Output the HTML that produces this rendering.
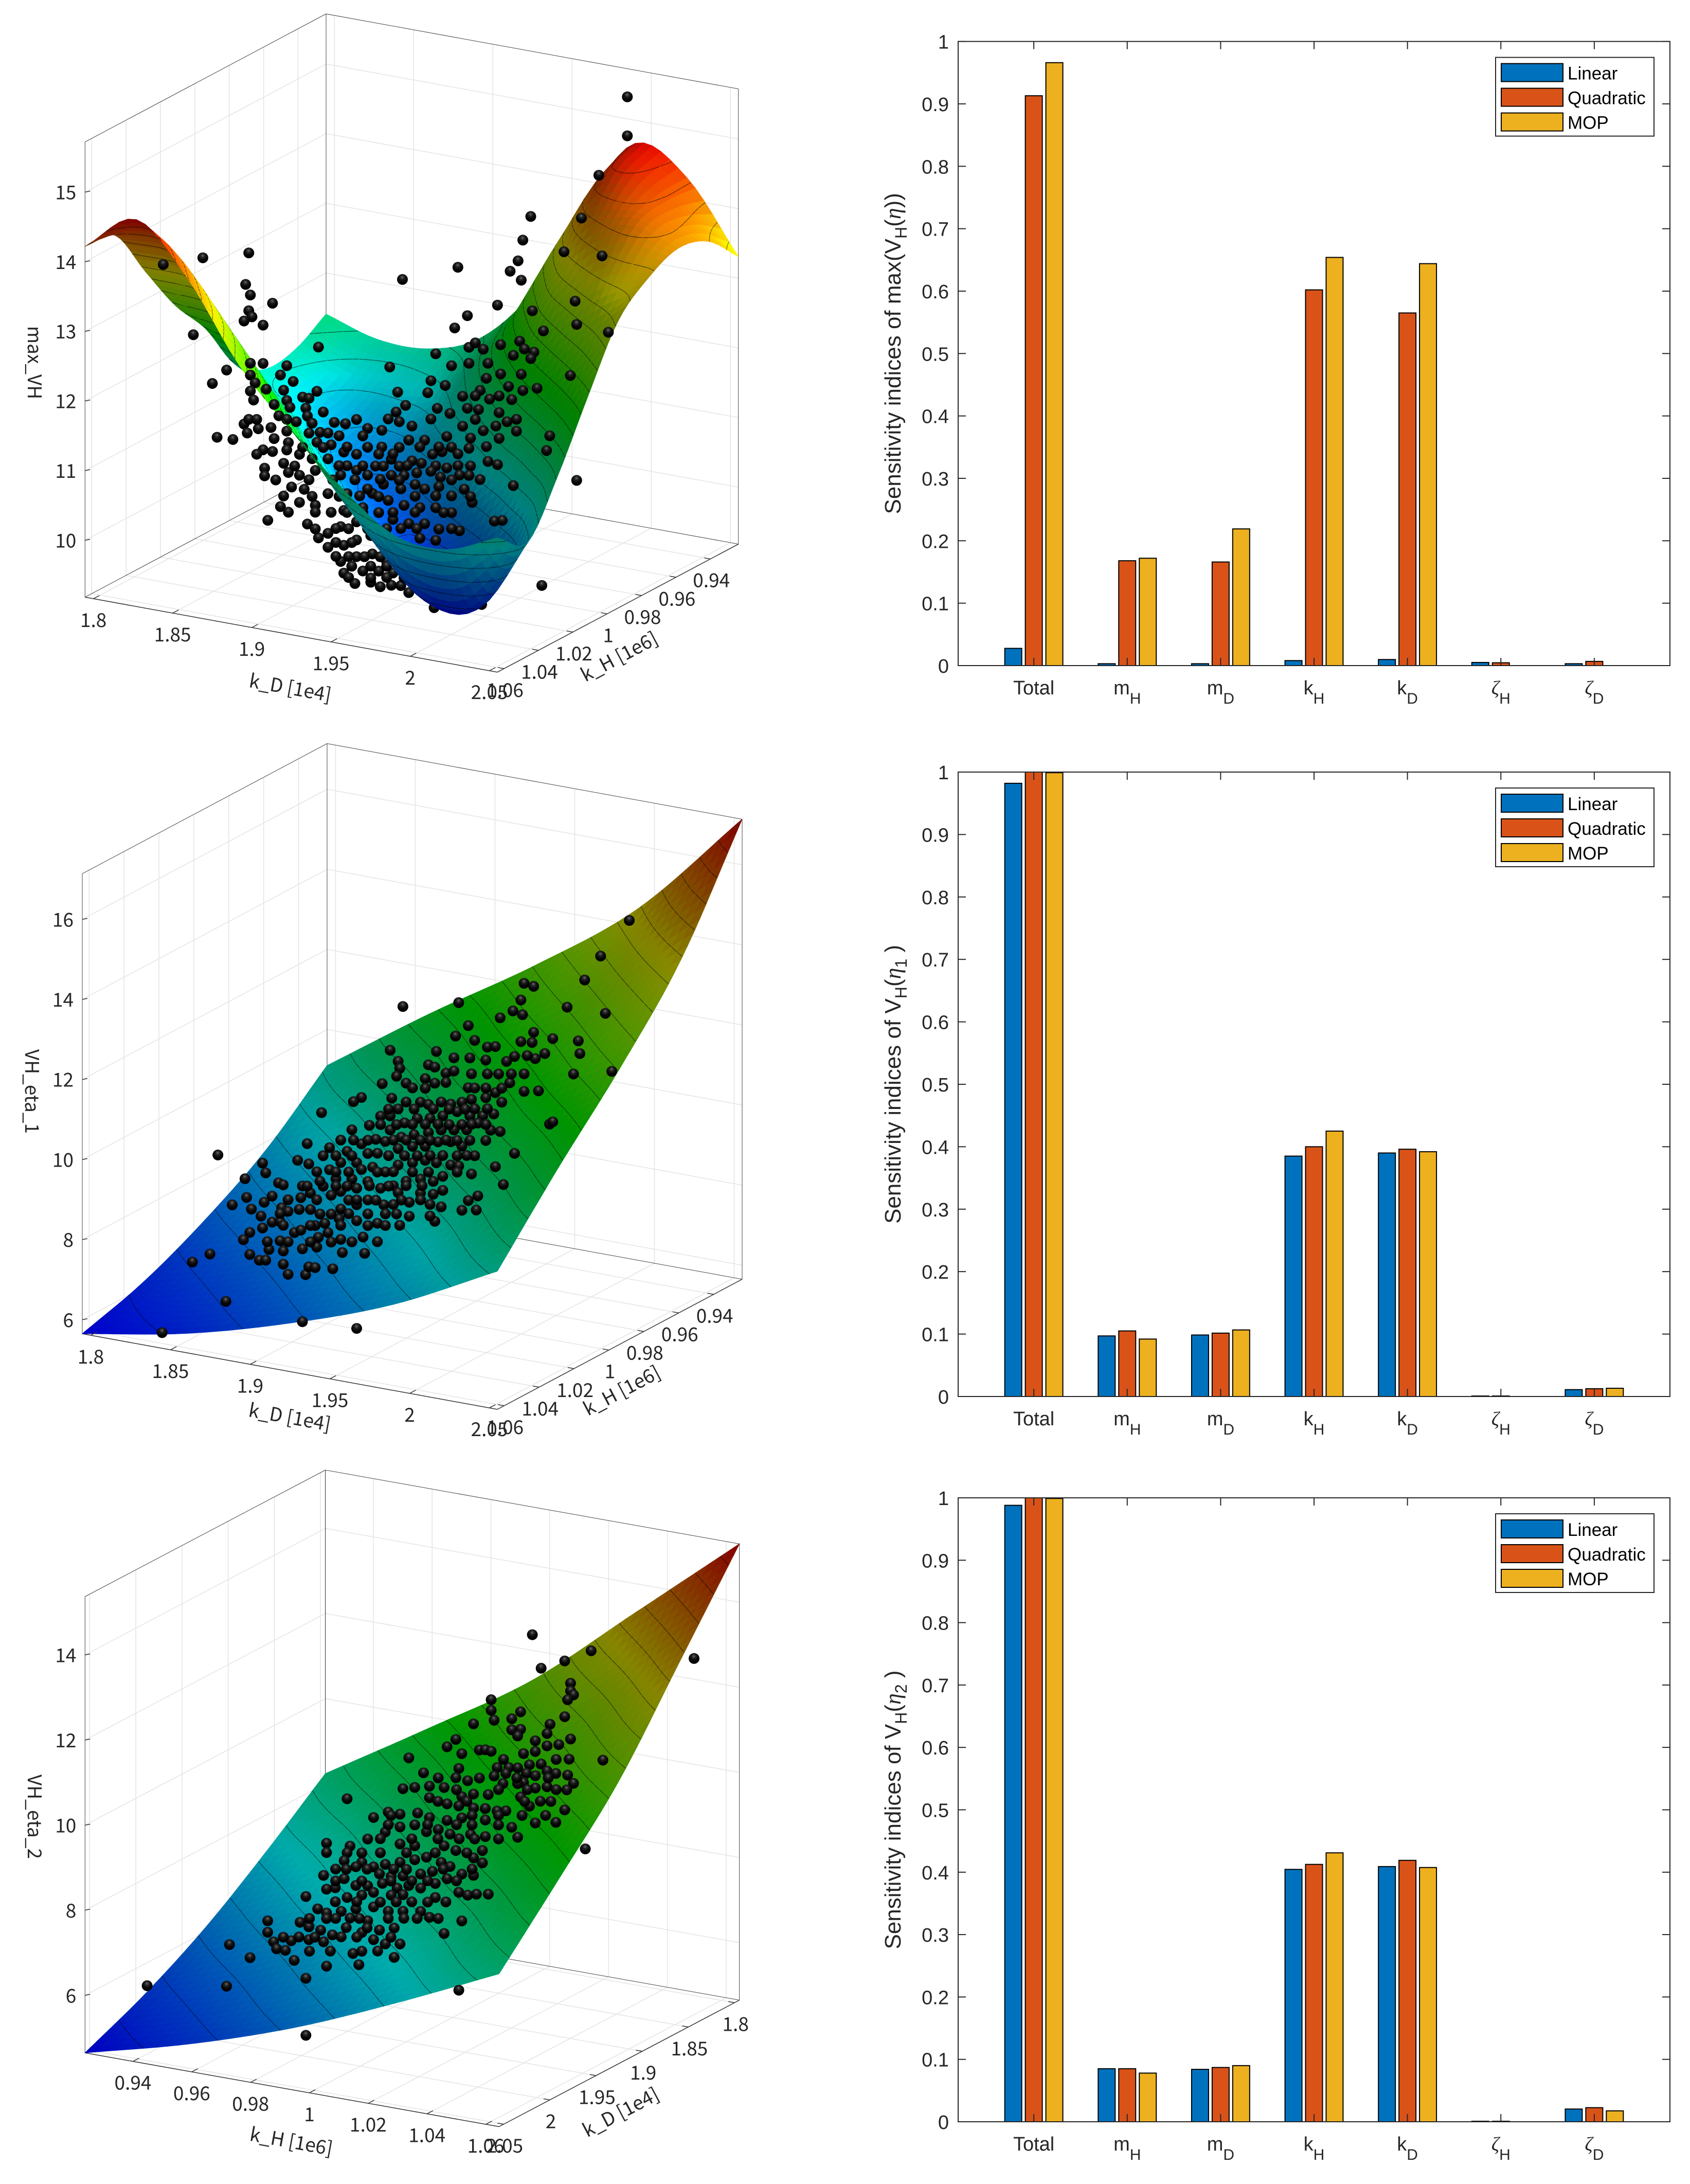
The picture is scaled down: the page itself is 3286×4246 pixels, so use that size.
<!DOCTYPE html>
<html lang="en">
<head>
<meta charset="utf-8">
<title>Sensitivity study of VH response surfaces</title>
<style>
html,body{margin:0;padding:0;background:#fff}
svg{display:block}
</style>
</head>
<body>
<svg id="figure" width="3286" height="4246" viewBox="0 0 3286 4246">
<defs>
<radialGradient id="ball" cx="0.48" cy="0.3" r="0.62">
<stop offset="0" stop-color="#6a6a6a"/>
<stop offset="0.3" stop-color="#222"/>
<stop offset="0.7" stop-color="#050505"/>
<stop offset="1" stop-color="#000"/>
</radialGradient>
</defs>
</svg>
<script>
/* ---------- bar chart data ---------- */
const barCategoriesMain = ['Total','m','m','k','k','\u03B6','\u03B6'];
const barCategoriesSub = ['','H','D','H','D','H','D'];
const barTickLabels = ['0','0.1','0.2','0.3','0.4','0.5','0.6','0.7','0.8','0.9','1'];
const barTickValues = [0,0.1,0.2,0.3,0.4,0.5,0.6,0.7,0.8,0.9,1];
const seriesNames = ['Linear','Quadratic','MOP'];
const seriesColors = ['#0072BD','#D95319','#EDB120'];

const maxLinear = [0.0276,0.003,0.003,0.008,0.0097,0.005,0.003];
const maxQuadratic = [0.913,0.168,0.166,0.602,0.565,0.0045,0.0067];
const maxMOP = [0.966,0.172,0.219,0.654,0.644,0,0];

const eta1Linear = [0.982,0.097,0.0985,0.385,0.39,0.0008,0.011];
const eta1Quadratic = [1.0,0.105,0.1015,0.40,0.396,0.0008,0.0125];
const eta1MOP = [0.999,0.092,0.1066,0.425,0.392,0,0.0132];

const eta2Linear = [0.988,0.085,0.084,0.4045,0.409,0.0008,0.0204];
const eta2Quadratic = [1.0,0.085,0.087,0.4125,0.419,0.0008,0.0226];
const eta2MOP = [0.999,0.078,0.09,0.431,0.4075,0,0.0175];

/* ---------- 3D chart tick data ---------- */
const kDTicks = [1.8,1.85,1.9,1.95,2,2.05];
const kDTickLabels = ['1.8','1.85','1.9','1.95','2','2.05'];
const kHTicks = [0.94,0.96,0.98,1,1.02,1.04,1.06];
const kHTickLabels = ['0.94','0.96','0.98','1','1.02','1.04','1.06'];
const zTicks1 = [10,11,12,13,14,15];
const zTicks2 = [6,8,10,12,14,16];
const zTicks3 = [6,8,10,12,14];

/* ---------- surface data ---------- */
const kDNodes9 = [1.7947,1.8272,1.8598,1.8923,1.9249,1.9574,1.9899,2.0225,2.055];
const kHNodes9 = [0.9237,0.9412,0.9587,0.9763,0.9938,1.0113,1.0288,1.0464,1.0639];
const surfaceMaxVH = [
[11.41,11.18,11.18,11.47,12.26,13.63,14.67,14.31,13.31],
[11.14,10.82,10.82,11.08,11.93,13.24,14.41,14.28,13.76],
[11.08,10.69,10.49,10.62,11.34,12.45,13.63,14.09,13.89],
[11.37,10.95,10.43,10.29,10.62,11.54,12.58,13.37,13.69],
[12.12,11.60,10.82,10.23,10.16,10.62,11.54,12.45,13.30],
[12.68,12.45,11.60,10.69,10.10,10.03,10.49,11.41,12.45],
[13.40,13.30,12.45,11.47,10.49,9.90,9.84,10.36,11.54],
[14.15,14.15,13.30,12.26,11.34,10.43,9.71,9.71,10.82],
[14.22,14.74,14.02,12.91,12.12,11.41,10.88,10.81,11.11]];

const kDNodes5 = [1.7947,1.8598,1.9249,1.9899,2.055];
const kHNodes5 = [0.9237,0.9588,0.9938,1.0289,1.0639];
const surfaceEta1 = [
[9.10,10.88,12.54,14.44,17.14],
[7.80,9.10,10.88,12.54,14.44],
[6.86,7.80,9.10,10.88,12.54],
[6.13,6.86,7.80,9.10,10.88],
[5.65,6.13,6.86,7.80,9.10]];

const kHNodes5b = [0.9237,0.9589,0.9941,1.0293,1.0645];
const surfaceEta2 = [
[8.24,9.74,11.30,13.33,15.37],
[7.12,8.24,9.74,11.30,13.33],
[6.10,7.12,8.24,9.74,11.30],
[5.29,6.10,7.12,8.24,9.74],
[4.65,5.29,6.10,7.12,8.24]];

/* ---------- sample points (depth along the view is not readable; nominal value used) ---------- */
const nominalKH = 0.9938;
const nominalKD = 1.925;
const samplesMaxKD = [
2.061,2.061,2.043,2.000,2.032,1.995,2.021,2.045,1.992,1.987,
1.994,1.954,1.919,1.768,1.793,1.822,1.820,1.823,1.837,1.822,
1.824,1.819,1.831,1.787,1.866,1.808,1.799,1.802,1.812,1.819,
1.821,1.979,1.960,1.952,2.028,2.029,2.008,2.049,2.001,2.025,
2.004,2.012,2.010,2.029,2.007,1.834,1.842,1.911,1.940,1.916,
1.939,1.944,1.954,1.959,1.961,1.969,1.989,1.977,1.982,1.961,
1.965,1.970,1.981,1.993,1.989,1.996,2.002,2.000,1.950,1.961,
1.973,1.981,1.994,1.972,1.986,1.995,1.968,1.988,1.974,1.937,
1.946,1.935,1.921,1.915,1.917,1.925,1.941,1.949,1.960,1.967,
1.980,1.985,1.978,1.991,1.970,1.957,1.947,1.923,1.933,1.980,
1.962,1.950,1.954,1.972,1.961,1.938,1.944,1.925,1.931,1.940,
1.947,1.954,1.962,1.973,1.979,1.920,1.928,1.937,1.943,1.955,
1.961,1.958,1.950,1.942,1.933,1.927,1.918,1.912,1.907,1.900,
1.910,1.920,1.930,1.940,1.950,1.963,1.904,1.913,1.923,1.933,
1.942,1.955,1.930,1.940,1.897,1.890,1.902,1.912,1.906,1.897,
1.906,1.894,1.846,1.842,1.831,1.823,1.823,1.826,1.850,1.844,
1.833,1.823,1.865,1.856,1.860,1.825,1.846,1.838,1.848,1.858,
1.869,1.841,1.859,1.822,1.852,1.862,1.876,1.883,1.828,1.836,
1.846,1.860,1.867,1.872,1.879,1.838,1.847,1.865,1.874,1.831,
1.837,1.846,1.854,1.862,1.872,1.882,1.890,1.832,1.844,1.832,
1.847,1.854,1.864,1.849,1.857,1.854,1.864,1.872,1.880,1.884,
1.874,1.882,1.859,1.866,1.872,1.880,1.890,1.872,1.882,1.890,
1.899,1.880,1.890,1.900,1.909,1.882,1.894,1.904,1.913,1.889,
1.899,1.905,1.912,1.918,1.923,1.897,1.884,1.894,1.917,
1.856,1.869,1.884,1.897,1.917,1.930,1.942,
1.839,1.860,1.875,1.889,1.905,1.917,1.950,1.968,
1.844,1.862,1.879,1.892,1.904,1.927,1.940,1.962,
1.847,1.864,1.884,1.894,1.913,1.927,1.945,
1.864,1.877,1.885,1.897,1.909,1.918,1.928,1.950,
1.877,1.887,1.905,1.913,
1.877,1.885,1.895,1.905,1.915,
1.887,1.899,1.909,1.918,
1.885,1.899,1.909,1.920,
1.851,1.879,1.894,1.907,1.922,
1.827,1.904,1.913,
1.827,1.846,1.890,1.910,1.937,1.965,1.991,
1.957,1.980,1.965];
const samplesMaxZ = [
16.55,15.99,15.35,14.58,14.69,14.22,14.16,14.20,13.91,13.74,
13.64,13.66,13.34,12.93,13.13,13.32,12.86,12.72,12.66,12.49,
12.41,12.33,12.32,12.00,12.15,11.58,11.35,10.59,10.60,10.85,
10.73,13.22,12.99,12.78,13.48,13.15,12.97,13.12,13.23,12.40,
12.13,11.48,11.26,10.91,9.31,9.53,9.76,12.05,12.36,11.71,
8.71,8.80,8.82,8.78,8.90,8.88,10.67,10.11,10.14,12.54,
12.62,12.55,12.66,12.76,12.54,12.66,12.64,12.54,12.23,12.31,
12.36,12.24,12.29,12.14,12.08,12.06,11.95,11.90,11.85,11.96,
11.93,11.78,11.54,11.42,11.29,11.26,11.58,11.54,11.66,11.67,
11.68,11.57,11.48,11.46,11.38,11.39,11.20,11.05,11.09,11.31,
11.24,11.06,10.98,11.16,11.09,10.91,10.97,10.76,10.75,10.75,
10.75,10.81,10.84,10.95,10.93,10.53,10.60,10.66,10.60,10.68,
10.70,10.49,10.36,10.46,10.39,10.43,10.33,10.50,10.35,10.19,
10.13,10.10,10.11,10.15,10.12,10.32,9.93,9.87,9.85,9.89,
9.85,9.88,9.67,9.68,10.24,10.48,10.59,10.73,10.88,11.11,
11.12,10.99,11.80,11.65,11.77,11.74,11.57,11.47,11.59,11.44,
11.41,11.34,11.51,11.39,11.39,11.22,11.30,11.21,11.21,11.24,
11.23,11.06,11.13,10.93,11.02,11.04,11.11,11.12,10.82,10.87,
10.86,10.89,10.93,10.94,10.93,10.72,10.70,10.78,10.78,10.53,
10.53,10.59,10.56,10.53,10.57,10.71,10.71,10.27,10.39,10.16,
10.27,10.26,10.37,10.07,10.07,9.87,9.87,10.07,10.37,10.12,
9.81,9.87,9.58,9.41,9.50,9.63,9.74,9.30,9.37,9.48,
9.58,9.13,9.24,9.32,9.25,8.97,9.05,9.09,9.10,8.85,
8.91,8.87,8.92,8.94,8.86,10.44,10.52,9.96,10.65,
10.67,10.72,10.79,10.84,10.92,10.98,11.03,
10.13,10.22,10.28,10.34,10.41,10.45,10.59,10.67,
9.92,9.99,10.06,10.12,10.16,10.26,10.32,10.40,
9.70,9.77,9.85,9.89,9.97,10.03,10.10,
9.53,9.59,9.62,9.67,9.72,9.76,9.80,9.89,
9.39,9.43,9.50,9.54,
9.19,9.22,9.26,9.30,9.34,
9.09,9.14,9.18,9.22,
8.92,8.97,9.02,9.06,
10.38,10.50,10.56,10.61,10.68,
10.45,10.77,10.81,
10.95,11.03,11.21,11.30,11.41,11.52,11.63,
11.82,11.92,11.86];

const samplesEta1KD = [
2.061,2.043,2.033,1.995,2.001,1.993,2.022,1.988,1.994,1.980,
2.046,1.954,1.919,1.960,1.952,2.001,2.013,2.029,1.993,2.000,
1.964,1.972,1.977,2.030,2.008,1.940,1.911,2.050,2.026,2.002,
1.997,1.989,1.984,1.971,1.961,1.951,1.916,1.917,1.915,1.906,
1.935,1.939,1.946,1.951,1.933,1.921,1.925,1.939,1.946,1.960,
1.986,1.995,2.004,2.011,2.013,1.989,1.977,1.982,1.960,1.966,
1.956,1.965,1.939,1.943,1.936,1.868,1.803,1.859,1.853,1.831,
1.860,1.833,1.820,1.841,1.844,1.821,1.812,1.837,1.832,1.824,
1.830,1.843,1.847,1.837,1.842,1.831,1.823,1.819,1.823,1.829,
1.833,1.798,1.787,1.808,1.768,1.856,1.890,1.835,1.844,1.847,
1.844,1.858,1.860,1.864,1.875,1.881,1.895,1.856,1.865,1.842,
1.847,1.851,1.855,1.866,1.872,1.880,1.894,1.870,1.879,1.890,
1.903,1.917,1.856,1.855,1.861,1.869,1.874,1.880,1.890,1.897,
1.907,1.913,1.923,1.930,1.938,1.944,1.880,1.890,1.867,1.861,
1.854,1.869,1.873,1.884,1.880,1.873,1.890,1.897,1.903,1.893,
1.887,1.898,1.905,1.911,1.910,1.893,1.888,1.912,1.921,1.930,
1.935,1.943,1.949,1.956,1.962,1.971,1.977,1.981,1.976,1.969,
1.961,1.953,1.944,1.936,1.928,1.920,1.911,1.918,1.926,1.935,
1.943,1.951,1.959,1.966,1.974,1.980,1.964,1.956,1.949,1.941,
1.933,1.925,1.916,1.908,1.902,1.893,1.900,1.908,1.916,1.925,
1.933,1.940,1.949,1.954,1.962,1.944,1.938,1.930,1.921,1.913,
1.905,1.897,1.887,1.877,1.867,1.916,1.923,1.936,1.864,
1.916,1.926,1.938,1.948,1.958,1.964,1.972,
1.905,1.915,1.925,1.933,1.941,1.948,1.956,1.962,1.971,
1.880,1.888,1.897,1.913,1.921,1.930,1.936,1.946,1.953,1.961,1.971,
1.877,1.887,1.910,1.920,1.928,1.936,1.944,1.953,1.959,
1.865,1.877,1.885,1.903,1.913,1.925,1.935,1.953,
1.859,1.877,1.884,1.898,1.910,1.921,1.931,
1.847,1.865,1.885,1.890,1.902,1.918,1.930,
1.842,1.874,1.885,1.897,1.908,1.915,
1.844,1.861,1.880,1.897,1.908,
1.834,1.861,1.874,1.887,1.903,
1.964,1.971,1.981,1.933,
1.962,1.972,1.979,1.987,1.995];
const samplesEta1Z = [
16.28,15.26,14.59,14.23,14.20,13.80,13.83,13.49,13.44,13.26,
13.85,13.45,13.10,12.92,12.60,13.05,12.98,13.04,12.76,12.79,
12.58,12.47,12.52,12.73,12.57,12.13,11.95,12.43,12.19,12.40,
12.44,12.36,12.20,12.14,12.12,12.05,11.71,11.54,11.33,11.08,
11.76,11.73,11.63,11.72,11.40,11.20,11.11,11.33,11.40,11.37,
11.68,11.53,11.61,10.83,10.90,9.94,9.52,9.11,8.55,8.71,
8.28,8.35,7.88,8.27,8.28,10.08,8.55,9.24,8.78,8.55,
8.74,8.32,8.08,8.13,8.10,7.62,7.37,7.77,7.58,7.35,
7.22,7.52,7.46,7.12,7.17,6.93,6.76,6.55,6.21,6.11,
6.14,6.04,5.76,4.93,3.86,4.77,4.85,6.42,6.45,5.89,
6.12,5.96,6.17,6.18,6.23,6.68,6.76,6.59,6.70,6.69,
6.70,6.96,7.05,6.95,7.11,7.00,7.16,7.33,7.51,7.54,
7.57,7.62,8.16,7.86,8.02,8.25,8.06,8.20,8.35,8.11,
8.06,8.11,8.24,8.52,8.55,8.69,7.76,7.94,7.54,7.61,
7.56,9.01,9.24,9.23,8.92,8.69,8.99,9.27,9.32,9.48,
9.79,9.98,10.26,10.31,10.47,10.64,10.50,10.76,10.73,10.79,
10.77,10.89,10.88,10.98,11.09,11.20,11.37,11.16,10.83,10.73,
10.67,10.72,10.55,10.43,10.37,10.20,9.96,9.83,9.95,10.07,
10.19,10.25,10.31,10.53,10.41,10.42,9.70,9.88,9.94,9.88,
9.71,9.65,9.53,9.65,9.66,8.84,8.95,8.89,9.12,9.24,
9.36,9.35,9.36,9.37,9.23,9.04,8.87,8.87,8.75,8.58,
8.46,8.57,8.56,8.49,8.36,8.43,7.89,7.99,7.23,
10.52,10.59,10.68,10.75,10.82,10.87,10.93,
10.05,10.12,10.20,10.26,10.32,10.36,10.42,10.47,10.53,
9.48,9.54,9.60,9.72,9.78,9.84,9.88,9.96,10.00,10.06,10.13,
9.07,9.14,9.31,9.38,9.44,9.50,9.56,9.62,9.67,
8.58,8.66,8.72,8.85,8.93,9.01,9.08,9.21,
8.18,8.31,8.36,8.47,8.55,8.64,8.71,
7.75,7.88,8.02,8.06,8.14,8.26,8.35,
7.37,7.59,7.68,7.76,7.84,7.89,
7.09,7.21,7.35,7.47,7.55,
6.61,6.80,6.89,6.99,7.11,
11.39,11.44,11.51,11.16,
11.73,11.80,11.85,11.91,11.97];

const samplesEta2KH = [
1.035,1.038,1.046,1.055,1.090,1.048,1.048,1.049,1.047,1.021,
1.021,1.022,1.031,1.028,1.015,1.046,1.041,1.031,1.028,1.030,
1.036,1.040,1.048,1.044,1.040,1.009,1.006,1.011,0.993,1.017,
1.019,1.021,1.059,1.032,1.036,1.034,1.038,1.023,1.027,1.030,
1.010,0.998,1.003,1.009,1.013,1.017,1.022,1.026,1.033,1.036,
1.040,1.043,1.047,1.049,1.040,1.036,1.032,1.030,1.025,1.020,
1.015,1.011,1.005,1.000,0.995,0.991,0.972,1.000,1.006,1.010,
1.015,1.019,1.023,1.026,1.031,1.034,1.046,1.043,1.036,1.030,
1.028,1.019,1.011,1.006,1.000,0.996,0.990,0.986,0.981,0.979,
0.985,0.990,0.995,0.999,1.003,1.007,1.014,1.019,1.018,1.015,
1.009,1.005,0.995,0.990,0.965,0.965,0.973,0.972,0.971,0.977,
0.975,0.981,0.985,0.990,0.995,0.999,1.004,1.007,1.011,1.018,
1.053,1.015,1.006,1.001,0.997,0.991,0.987,0.983,0.971,0.964,
0.965,0.968,0.975,0.979,0.984,0.989,0.993,0.997,1.002,1.010,
1.013,1.016,1.020,1.002,0.991,0.987,0.981,0.977,0.972,0.968,
0.958,0.962,0.965,0.970,0.975,0.981,0.986,0.991,0.997,1.000,
1.003,1.011,1.005,0.945,0.945,0.947,0.948,0.951,0.953,0.954,
0.956,0.959,0.963,0.967,0.970,0.973,0.979,0.983,0.988,0.990,
0.985,0.981,0.977,0.965,0.959,0.964,0.932,0.939,0.931,0.904,
0.958,0.958,1.010,0.976,0.974,0.988,0.965,
1.0092,1.0235,1.0333,1.0431,1.0467,
1.0029,1.0127,1.0324,1.0377,1.0413,
0.9869,1.0145,1.0235,1.0315,1.0395,
0.9860,0.9994,1.0092,1.0145,1.0235,
0.9833,0.9940,1.0029,1.0101,1.0154,1.0235,
0.9770,0.9833,0.9922,1.0020,1.0127,
0.9681,0.9717,0.9788,0.9878,0.9922,1.0047,1.0145,
0.9681,0.9770,0.9869,0.9940,0.9994,1.0092,
0.9753,0.9833,0.9887,0.9940,0.9994,1.0056,
0.9592,0.9681,0.9762,0.9860,0.9913,0.9958,
0.9717,0.9788,
0.9503,0.9556,0.9610,0.9753,0.9869,
0.9592,0.9663,0.9770,0.9824,
1.0252,1.0431,1.0475,
1.0297,1.0404];
const samplesEta2Z = [
14.36,13.61,13.88,14.23,14.48,13.38,13.20,13.12,12.98,12.66,
12.41,12.19,12.50,12.30,12.02,12.57,12.33,12.09,12.04,11.92,
11.88,12.10,12.07,11.89,11.81,11.58,11.37,11.27,10.95,11.43,
11.46,11.45,11.71,11.53,11.63,11.29,11.36,11.09,11.14,11.17,
10.91,10.66,10.60,10.68,10.66,10.77,10.88,10.99,11.08,11.06,
11.22,11.20,11.21,11.04,10.85,10.77,10.85,10.80,10.74,10.42,
10.37,10.26,10.40,10.37,10.28,10.20,9.73,10.10,10.03,10.03,
10.04,10.08,10.07,10.11,10.50,10.32,10.38,10.05,9.95,9.54,
9.75,9.81,9.76,9.64,9.63,9.69,9.59,9.59,9.40,8.87,
9.11,9.29,9.40,9.29,9.39,9.33,9.41,9.42,9.08,8.87,
8.97,9.03,8.91,8.89,8.60,8.38,8.63,8.46,8.26,8.30,
8.17,8.24,8.35,8.46,8.58,8.69,8.63,8.57,8.44,8.79,
9.55,8.46,8.27,8.38,8.27,8.15,8.09,8.10,7.84,7.83,
7.52,7.59,7.73,7.77,7.89,7.84,7.95,7.94,8.11,8.00,
7.97,8.03,8.08,7.78,7.71,7.65,7.64,7.53,7.41,7.26,
7.26,7.02,6.96,7.06,7.18,7.30,7.26,7.32,7.39,7.29,
7.30,7.34,6.97,6.53,6.26,6.06,5.91,5.91,6.16,5.71,
6.63,6.56,6.53,6.47,6.46,6.94,6.95,6.78,6.89,6.54,
6.48,6.53,6.65,6.83,6.26,6.27,5.81,5.59,4.82,4.50,
5.34,4.00,5.70,5.88,6.12,6.20,5.71,
10.40,10.58,10.70,10.82,10.86,
10.05,10.17,10.41,10.48,10.52,
9.52,9.86,9.97,10.07,10.17,
9.29,9.46,9.58,9.64,9.75,
8.93,9.06,9.17,9.26,9.32,9.42,
8.52,8.60,8.71,8.83,8.96,
8.03,8.07,8.16,8.27,8.32,8.48,8.60,
7.75,7.86,7.98,8.07,8.14,8.26,
7.35,7.44,7.51,7.58,7.64,7.72,
6.76,6.87,6.97,7.09,7.16,7.21,
6.70,6.78,
6.21,6.28,6.34,6.52,6.66,
5.99,6.08,6.21,6.28,
11.31,11.53,11.59,
10.93,11.06];

/* ---------- helpers ---------- */
const SVG_NS = 'http://www.w3.org/2000/svg';
const root = document.getElementById('figure');
const INK = '#262626';
const SANS3D = '"Noto Sans CJK JP","Liberation Sans",sans-serif';
const SANS = '"Liberation Sans",sans-serif';

function mk(tag, attrs, parent) {
  const e = document.createElementNS(SVG_NS, tag);
  for (const k in attrs) e.setAttribute(k, attrs[k]);
  (parent || root).appendChild(e);
  return e;
}
function makeTspan(parent, str, extra) {
  const s = mk('tspan', extra || {}, parent);
  s.textContent = str;
  return s;
}

/* ---------- bar panels ---------- */
function drawBarPanel(cfg) {
  const left = 1863, right = 3247, xMin = 0.19, xMax = 7.81;
  const top = cfg.top, bottom = cfg.bottom;
  const xAxis = p => left + (p - xMin) / (xMax - xMin) * (right - left);
  const yAxis = v => bottom - Math.min(v, 1) * (bottom - top);
  const g = mk('g', {});
  
  

  cfg.series.forEach((vals, s) => {
    vals.forEach((v, i) => {
      if (v <= 0) return;
      const cx = xAxis(i + 1 + (s - 1) * 0.22);
      const w = 33;
      const y = yAxis(v);
      const r = mk('rect', {x: cx - w / 2, y: y, width: w, height: bottom - y, fill: seriesColors[s], stroke: '#000', 'stroke-width': 2}, g);
      
      
    });
  });

  const box = mk('rect', {x: left, y: top, width: right - left, height: bottom - top, fill: 'none', stroke: INK, 'stroke-width': 2}, g);
  
  

  barTickValues.forEach((v, i) => {
    const y = yAxis(v);
    mk('line', {x1: left, x2: left + 15, y1: y, y2: y, stroke: INK, 'stroke-width': 2}, g);
    mk('line', {x1: right, x2: right - 15, y1: y, y2: y, stroke: INK, 'stroke-width': 2}, g);
    const t = mk('text', {x: left - 18, y: y + 14, 'text-anchor': 'end', 'font-family': SANS, 'font-size': 38, fill: INK}, g);
    t.textContent = barTickLabels[i];
    
    
  });

  barCategoriesMain.forEach((c, i) => {
    const x = xAxis(i + 1);
    mk('line', {x1: x, x2: x, y1: bottom, y2: bottom - 15, stroke: INK, 'stroke-width': 2}, g);
    mk('line', {x1: x, x2: x, y1: top, y2: top + 15, stroke: INK, 'stroke-width': 2}, g);
    const t = mk('text', {x: x, y: bottom + 56, 'text-anchor': 'middle', 'font-family': SANS, 'font-size': 38, fill: INK}, g);
    
    
    if (c === '\u03B6') makeTspan(t, c, {'font-family': '"Liberation Serif",serif', 'font-style': 'italic'});
    else makeTspan(t, c);
    if (barCategoriesSub[i]) makeTspan(t, barCategoriesSub[i], {dy: 18, 'font-size': 30});
  });

  const yl = mk('text', {transform: 'translate(1751,' + ((top + bottom) / 2) + ') rotate(-90)', 'text-anchor': 'middle', 'font-family': SANS, 'font-size': 44, fill: INK}, g);
  
  
  cfg.title(yl);

  const lx = 2908, ly = top + 31;
  const lg = mk('g', {}, g);
  
  
  mk('rect', {x: lx, y: ly, width: 308, height: 153, fill: '#fff', stroke: INK, 'stroke-width': 2}, lg);
  seriesNames.forEach((n, s) => {
    const sy = ly + 12 + s * 48;
    const sw = mk('rect', {x: lx + 11, y: sy, width: 120, height: 35, fill: seriesColors[s], stroke: '#000', 'stroke-width': 2}, lg);
    
    
    const t = mk('text', {x: lx + 140, y: sy + 31, 'font-family': SANS, 'font-size': 35, fill: '#000'}, lg);
    t.textContent = n;
    
    
  });
}

function titleParts(el, parts) {
  let cur = 0;
  parts.forEach(p => {
    const attrs = {};
    const target = p.d || 0;
    if (target !== cur) attrs.dy = target - cur;
    cur = target;
    if (p.size) attrs['font-size'] = p.size;
    if (p.greek) { attrs['font-family'] = '"Liberation Serif",serif'; attrs['font-style'] = 'italic'; }
    makeTspan(el, p.s, attrs);
  });
}

drawBarPanel({name: 'bar-chart-max-vh', top: 80.6, bottom: 1294,
  series: [maxLinear, maxQuadratic, maxMOP],
  title: el => titleParts(el, [{s: 'Sensitivity indices of max(V'}, {s: 'H', d: 12, size: 32}, {s: '('}, {s: '\u03B7', greek: true}, {s: '))'}])});
drawBarPanel({name: 'bar-chart-eta-1', top: 1501, bottom: 2715,
  series: [eta1Linear, eta1Quadratic, eta1MOP],
  title: el => titleParts(el, [{s: 'Sensitivity indices of V'}, {s: 'H', d: 12, size: 32}, {s: '('}, {s: '\u03B7', greek: true}, {s: '1', d: 12, size: 32}, {s: ' )'}])});
drawBarPanel({name: 'bar-chart-eta-2', top: 2912, bottom: 4125,
  series: [eta2Linear, eta2Quadratic, eta2MOP],
  title: el => titleParts(el, [{s: 'Sensitivity indices of V'}, {s: 'H', d: 12, size: 32}, {s: '('}, {s: '\u03B7', greek: true}, {s: '2', d: 12, size: 32}, {s: ' )'}])});

/* ---------- 3D panels ---------- */
function jet(t) {
  t = Math.max(0, Math.min(1, t));
  if (t < 0.25) return [0, t * 4 * 255, 255];
  if (t < 0.5) return [0, 255, (0.5 - t) * 4 * 255];
  if (t < 0.75) return [(t - 0.5) * 4 * 255, 255, 0];
  return [255, (1 - t) * 4 * 255, 0];
}
function catmull(p0, p1, p2, p3, t) {
  return 0.5 * (2 * p1 + (p2 - p0) * t + (2 * p0 - 5 * p1 + 4 * p2 - p3) * t * t + (3 * p1 - p0 - 3 * p2 + p3) * t * t * t);
}
function nodeAt(nodes, s) {
  const i = Math.min(Math.floor(s), nodes.length - 2);
  return nodes[i] + (nodes[i + 1] - nodes[i]) * (s - i);
}
function sampleLine(line, i, f) {
  const n = line.length;
  const before = i > 0 ? line[i - 1] : 2 * line[0] - line[1];
  const after = i + 2 < n ? line[i + 2] : 2 * line[n - 1] - line[n - 2];
  return catmull(before, line[i], line[i + 1], after, f);
}
function gridAt(grid, s, t) {
  const ny = grid.length, nx = grid[0].length;
  const i = Math.min(Math.floor(s), nx - 2), j = Math.min(Math.floor(t), ny - 2);
  const fs = s - i, ft = t - j;
  const col = grid.map(r => sampleLine(r, i, fs));
  return sampleLine(col, j, ft);
}

function drawPanel3D(cfg) {
  const g = mk('g', {});
  
  
  const B = cfg.B, U = cfg.U, V = cfg.V, H = cfg.H;
  const P = (u, v, w) => [B[0] + u * U[0] + v * V[0], B[1] + u * U[1] + v * V[1] - w * H];
  const uOf = a => (a - cfg.aLim[0]) / (cfg.aLim[1] - cfg.aLim[0]);
  const vOf = b => (b - cfg.bLim[0]) / (cfg.bLim[1] - cfg.bLim[0]);
  const wOf = z => (z - cfg.zLim[0]) / (cfg.zLim[1] - cfg.zLim[0]);
  const seg = (parent, p, q, stroke, width) => mk('line', {x1: p[0], y1: p[1], x2: q[0], y2: q[1], stroke: stroke, 'stroke-width': width}, parent);

  /* grid */
  const grid = mk('g', {}, g);
  
  
  const GC = '#e4e4e4';
  cfg.aTicks.forEach(a => {
    const u = uOf(a);
    seg(grid, P(u, 0, 0), P(u, 1, 0), GC, 1.5);
    seg(grid, P(u, 0, 0), P(u, 0, 1), GC, 1.5);
  });
  cfg.bTicks.forEach(b => {
    const v = vOf(b);
    seg(grid, P(0, v, 0), P(1, v, 0), GC, 1.5);
    seg(grid, P(0, v, 0), P(0, v, 1), GC, 1.5);
  });
  cfg.zTicks.forEach(z => {
    const w = wOf(z);
    seg(grid, P(0, 1, w), P(0, 0, w), GC, 1.5);
    seg(grid, P(0, 0, w), P(1, 0, w), GC, 1.5);
  });
  const BC = '#444';
  seg(grid, P(0, 1, 1), P(0, 0, 1), BC, 1);
  seg(grid, P(0, 0, 1), P(1, 0, 1), BC, 1);
  seg(grid, P(0, 1, 0), P(0, 1, 1), BC, 1);
  seg(grid, P(1, 0, 0), P(1, 0, 1), BC, 1);
  seg(grid, P(0, 0, 0), P(0, 0, 1), cfg.backEdge, 1);
  seg(grid, P(0, 1, 0), P(0, 0, 0), BC, 1);
  seg(grid, P(0, 0, 0), P(1, 0, 0), BC, 1);
  seg(grid, P(0, 1, 0), P(1, 1, 0), '#333', 1.5);
  seg(grid, P(1, 1, 0), P(1, 0, 0), '#333', 1.5);

  /* surface mesh */
  const nu = cfg.aNodes.length, nv = cfg.bNodes.length;
  const Mu = cfg.sub * (nu - 1), Mv = cfg.sub * (nv - 1);
  const mesh = [];
  let zMin = Infinity, zMax = -Infinity;
  for (let j = 0; j <= Mv; j++) {
    const row = [];
    for (let i = 0; i <= Mu; i++) {
      const s = i / Mu * (nu - 1), t = j / Mv * (nv - 1);
      const z = gridAt(cfg.zGrid, s, t);
      zMin = Math.min(zMin, z); zMax = Math.max(zMax, z);
      row.push({u: uOf(nodeAt(cfg.aNodes, s)), v: vOf(nodeAt(cfg.bNodes, t)), w: wOf(z), z: z});
    }
    mesh.push(row);
  }
  const view = [1, U[0] / -V[0], (U[1] + V[1] * (U[0] / -V[0])) / H];
  const vl = Math.hypot(view[0], view[1], view[2]);
  const VW = view.map(c => c / vl);
  const L = [0.55, -0.35, 0.75];
  const LN = Math.hypot(L[0], L[1], L[2]);
  const quads = [];
  for (let j = 0; j < Mv; j++) {
    for (let i = 0; i < Mu; i++) {
      const a = mesh[j][i], b = mesh[j][i + 1], c = mesh[j + 1][i + 1], d = mesh[j + 1][i];
      const du = ((b.u + c.u) - (a.u + d.u)) / 2, dv = ((c.v + d.v) - (a.v + b.v)) / 2;
      const sa = ((b.w + c.w) - (a.w + d.w)) / 2 / du, sb = ((c.w + d.w) - (a.w + b.w)) / 2 / dv;
      let n = [-sa, -sb, 1];
      const nl = Math.hypot(n[0], n[1], n[2]);
      n = n.map(x => x / nl);
      const facing = n[0] * VW[0] + n[1] * VW[1] + n[2] * VW[2];
      if (facing < 0) n = n.map(x => -x);
      const dot = (n[0] * L[0] + n[1] * L[1] + n[2] * L[2]) / LN;
      const shade = 0.5 + 0.5 * Math.max(0, dot);
      const col = jet(((a.z + b.z + c.z + d.z) / 4 - zMin) / (zMax - zMin));
      const fill = 'rgb(' + col.map(x => Math.round(x * shade)).join(',') + ')';
      const mu = (a.u + c.u) / 2, mv = (a.v + c.v) / 2, mw = (a.w + b.w + c.w + d.w) / 4;
      quads.push({pts: [a, b, c, d], fill: fill, facing: facing, mu: mu, mv: mv, depth: mu * VW[0] + mv * VW[1] + mw * VW[2]});
    }
  }
  quads.sort((p, q) => p.depth - q.depth);

  const step = cfg.contourStep;
  function paintQuad(parent, q) {
    const xy = q.pts.map(p => P(p.u, p.v, p.w));
    const poly = mk('polygon', {points: xy.map(p => p[0].toFixed(1) + ',' + p[1].toFixed(1)).join(' '), fill: q.fill, stroke: q.fill, 'stroke-width': 1}, parent);
    
    
    const zs = q.pts.map(p => p.z);
    const lo = Math.ceil(Math.min.apply(null, zs) / step), hi = Math.floor(Math.max.apply(null, zs) / step);
    for (let k = lo; k <= hi; k++) {
      const lev = k * step, cross = [];
      for (let e = 0; e < 4; e++) {
        const z0 = zs[e], z1 = zs[(e + 1) % 4];
        if ((z0 - lev) * (z1 - lev) < 0) {
          const f = (lev - z0) / (z1 - z0), p0 = xy[e], p1 = xy[(e + 1) % 4];
          cross.push([p0[0] + (p1[0] - p0[0]) * f, p0[1] + (p1[1] - p0[1]) * f]);
        }
      }
      if (cross.length >= 2) {
        const ln = mk('line', {x1: cross[0][0].toFixed(1), y1: cross[0][1].toFixed(1), x2: cross[1][0].toFixed(1), y2: cross[1][1].toFixed(1), stroke: '#000', 'stroke-opacity': 0.6, 'stroke-width': 1.2}, parent);
        
        
      }
    }
  }
  const surf = mk('g', {}, g);
  
  
  quads.forEach(q => paintQuad(surf, q));

  /* samples */
  const dots = mk('g', {}, g);
  
  
  const count = Math.min(cfg.samplesA.length, cfg.samplesZ.length);
  for (let i = 0; i < count; i++) {
    const p = P(uOf(cfg.samplesA[i]), vOf(cfg.nominalB), wOf(cfg.samplesZ[i]));
    const c = mk('circle', {cx: p[0].toFixed(1), cy: p[1].toFixed(1), r: 10.5, fill: 'url(#ball)'}, dots);
    
    
  }

  /* near wall of the surface hides the samples behind it */
  if (cfg.frontWall) {
    const fw = mk('g', {}, g);
    
    
    quads.filter(q => q.facing < 0 && q.mu > 0.28 && q.mv > 0.55).forEach(q => paintQuad(fw, q));
  }

  /* ticks and labels */
  const txt = mk('g', {'font-family': SANS3D, 'font-size': 37, fill: INK}, g);
  cfg.aTicks.forEach((a, i) => {
    const p = P(uOf(a), 1, 0);
    seg(txt, p, [p[0] - V[0] * 0.025, p[1] - V[1] * 0.025], '#333', 1.5);
    const t = mk('text', {x: p[0], y: p[1] + 55, 'text-anchor': 'middle'}, txt);
    t.textContent = cfg.aLabels[i];
    
    
  });
  cfg.bTicks.forEach((b, i) => {
    const p = P(1, vOf(b), 0);
    seg(txt, p, [p[0] - U[0] * 0.015, p[1] - U[1] * 0.015], '#333', 1.5);
    const t = mk('text', {x: p[0] + 2, y: p[1] + 55, 'text-anchor': 'middle'}, txt);
    t.textContent = cfg.bLabels[i];
    
    
  });
  cfg.zTicks.forEach(z => {
    const p = P(0, 1, wOf(z));
    seg(txt, p, [p[0] + 10, p[1] - 2], '#333', 1.5);
    const t = mk('text', {x: p[0] - 17, y: p[1] + 14, 'text-anchor': 'end'}, txt);
    t.textContent = String(z);
    
    
  });
  const t1 = mk('text', {transform: 'translate(' + cfg.aTitlePos[0] + ',' + cfg.aTitlePos[1] + ') rotate(10.3)', 'text-anchor': 'middle'}, txt);
  t1.textContent = cfg.aTitle;
  
  
  const t2 = mk('text', {transform: 'translate(' + cfg.bTitlePos[0] + ',' + cfg.bTitlePos[1] + ') rotate(-28)', 'text-anchor': 'middle'}, txt);
  t2.textContent = cfg.bTitle;
  
  
  const t3 = mk('text', {transform: 'translate(' + cfg.zTitlePos[0] + ',' + cfg.zTitlePos[1] + ') rotate(90)', 'text-anchor': 'middle'}, txt);
  t3.textContent = cfg.zTitle;
  
  
}

drawPanel3D({name: 'surface-chart-max-vh', B: [634, 912], U: [801.7, 145.8], V: [-468.7, 249], H: 885,
  aLim: [1.7947, 2.055], bLim: [0.9237, 1.0639], zLim: [9.183, 15.72],
  aNodes: kDNodes9, bNodes: kHNodes9, zGrid: surfaceMaxVH, sub: 6, contourStep: 0.25,
  aTicks: kDTicks, aLabels: kDTickLabels, bTicks: kHTicks, bLabels: kHTickLabels, zTicks: zTicks1,
  samplesA: samplesMaxKD, samplesZ: samplesMaxZ, nominalB: nominalKH, frontWall: true, backEdge: '#444',
  aTitle: 'k_D [1e4]', bTitle: 'k_H [1e6]', zTitle: 'max_VH',
  aTitlePos: [562, 1350], bTitlePos: [1210, 1288], zTitlePos: [54, 705]});

drawPanel3D({name: 'surface-chart-eta-1', B: [636, 2340], U: [807, 147], V: [-476, 253], H: 894.4,
  aLim: [1.7947, 2.055], bLim: [0.9237, 1.0639], zLim: [5.65, 17.14],
  aNodes: kDNodes5, bNodes: kHNodes5, zGrid: surfaceEta1, sub: 10, contourStep: 0.5,
  aTicks: kDTicks, aLabels: kDTickLabels, bTicks: kHTicks, bLabels: kHTickLabels, zTicks: zTicks2,
  samplesA: samplesEta1KD, samplesZ: samplesEta1Z, nominalB: nominalKH, frontWall: false, backEdge: '#444',
  aTitle: 'k_D [1e4]', bTitle: 'k_H [1e6]', zTitle: 'VH_eta_1',
  aTitlePos: [561, 2768], bTitlePos: [1215, 2715], zTitlePos: [49, 2122]});

drawPanel3D({name: 'surface-chart-eta-2', B: [632.7, 3745], U: [805, 143.5], V: [-467.4, 246], H: 887,
  aLim: [0.9237, 1.0645], bLim: [1.7947, 2.055], zLim: [4.65, 15.37],
  aNodes: kHNodes5b, bNodes: kDNodes5, zGrid: surfaceEta2, sub: 10, contourStep: 0.5,
  aTicks: kHTicks, aLabels: kHTickLabels, bTicks: kDTicks, bLabels: kDTickLabels, zTicks: zTicks3,
  samplesA: samplesEta2KH, samplesZ: samplesEta2Z, nominalB: nominalKD, frontWall: false, backEdge: '#222',
  aTitle: 'k_H [1e6]', bTitle: 'k_D [1e4]', zTitle: 'VH_eta_2',
  aTitlePos: [564, 4176], bTitlePos: [1213, 4118], zTitlePos: [54, 3532]});
</script>
</body>
</html>
